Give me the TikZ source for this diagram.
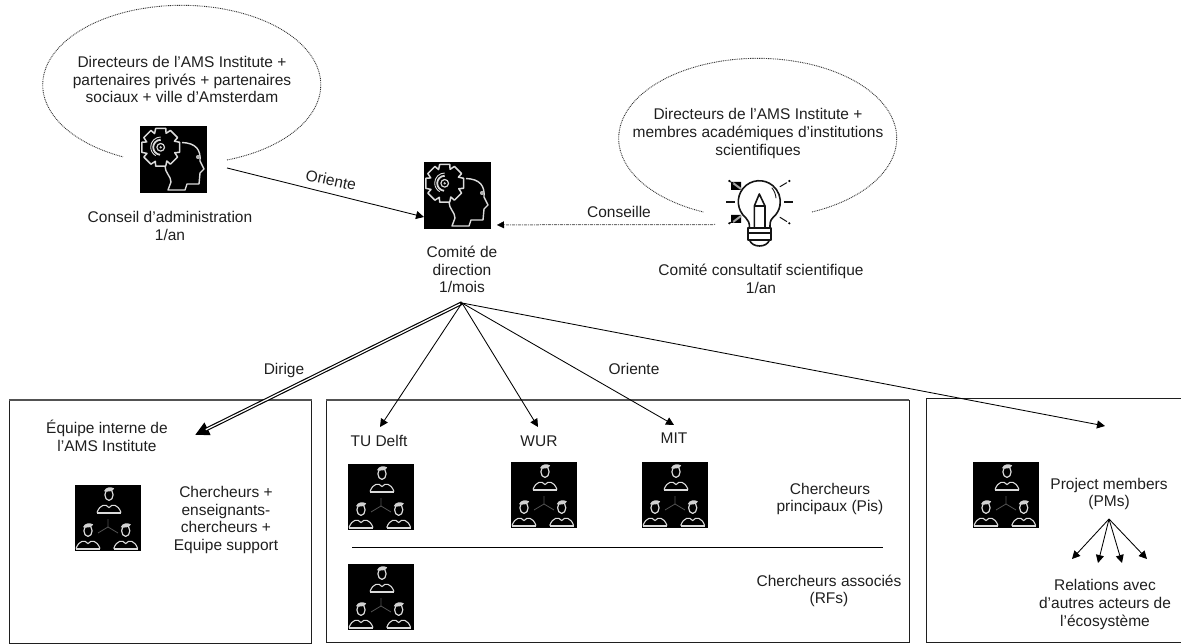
\documentclass[tikz,border=0pt]{standalone}
\usepackage{fontspec}
\setmainfont{Liberation Sans}
\usetikzlibrary{arrows.meta}
\tikzset{
  lbl/.style={font=\fontsize{15.5}{17.6}\selectfont, align=center, inner sep=0pt, text=black!88},
  frame/.style={draw=black!88, line width=0.9pt},
  frametop/.style={draw=black!68, line width=1.5pt},
  bubble/.style={draw=black!80, line width=0.9pt, dash pattern=on 0.9pt off 0.9pt},
  conn/.style={draw=black, line width=0.85pt, -{Triangle[length=8pt,width=8pt]}},
  iconline/.style={draw=black!14, line width=1.2pt, line join=round},
  bulbline/.style={draw=black!92, line width=1.6pt, line cap=round, line join=round},
  team/.pic={
    \fill[black] (0,0) rectangle (66,66);
    \draw[black!68, line width=0.8pt] (33,42) -- (33,34) (33,42) -- (23,48) (33,42) -- (43,48);
    \foreach \cx/\cy in {34/9,13/45,50.7/45}{
      \begin{scope}[shift={(\cx,\cy)}]
        \draw[iconline] (0,0.8) ellipse (4.1 and 5.6);
        \fill[black!18] (-5,-2.8) .. controls (-3.5,-7.2) and (2,-7.5) .. (5.2,-5.6) .. controls (4.5,-2.6) and (-2,-1.8) .. cycle;
        \draw[iconline, line width=1.1pt] (-12,18.6) .. controls (-9,10) and (-3,9.5) .. (0,13.6) .. controls (3,9.5) and (9,10) .. (12,18.6);
        \draw[iconline, line width=1.8pt] (-12.2,18.6) -- (12.2,18.6);
      \end{scope}
    }
  },
  brain/.pic={
    \fill[black] (0,0) rectangle (67,67);
    \draw[iconline, line width=1.4pt] (25,40) .. controls (25,47) and (31,50) .. (31,56) -- (28,64) -- (45,64) -- (47,58) -- (59,58) -- (60,47) -- (64,43) -- (60,35) .. controls (61,24) and (56,17) .. (42,16.5);
    \fill[black!30] (58,31) circle (2.1);
    \draw[iconline, line width=1.5pt, fill=black] ({20.7+15*cos(-24)},{21.3+15*sin(-24)})
      \foreach \i in {0,...,7}{
        -- ({20.7+19.5*cos(\i*45-15)},{21.3+19.5*sin(\i*45-15)})
        -- ({20.7+19.5*cos(\i*45+15)},{21.3+19.5*sin(\i*45+15)})
        -- ({20.7+15*cos(\i*45+21)},{21.3+15*sin(\i*45+21)})
      } -- cycle;
    \draw[iconline] (20.7,21.3) circle (3.8);
    \fill[black!20] (20.7,21.3) circle (1.3);
    \draw[iconline, line width=1.8pt] (20.7,13.8) arc[start angle=-90,end angle=-265,radius=7.5];
    \draw[iconline, line width=0.9pt] (20.7,11) arc[start angle=-90,end angle=-240,radius=10];
  }
}
\begin{document}
\begin{tikzpicture}[x=1pt,y=-1pt]
\useasboundingbox (0,0) rectangle (1181,644);
\clip (0,0) rectangle (1181,644);
% bubbles
\draw[bubble] (227,160) arc[start angle=71,end angle=-245,x radius=139,y radius=79.5];
\draw[bubble] (812,212) arc[start angle=67,end angle=-247,x radius=139,y radius=80];
% frames
\draw[frame] (9,400) rectangle (311.5,643);
\draw[frame] (326,400) rectangle (909,642.5);
\draw[frame] (926,398.5) rectangle (1190,642.5);
\draw[frametop] (9,400) -- (311.5,400) (326,400) -- (909,400);
% icons
\pic at (140,126) {brain};
\pic at (424,162) {brain};
\pic at (75,485) {team};
\pic at (348,464) {team};
\pic at (511,462) {team};
\pic at (642,462) {team};
\pic at (348,564) {team};
\pic at (973,462) {team};
% bulb
\draw[bulbline] (749.5,228) .. controls (749.5,223) and (748.5,220.5) .. (745.8,217.8) arc[start angle=130,end angle=410,x radius=21,y radius=21] .. controls (770,220.5) and (770,223) .. (770,228);
\draw[bulbline] (754.3,228) -- (754.3,206) -- (759.3,194) -- (765,206) -- (765,228) (754.3,206) -- (765,206);
\draw[bulbline] (748,228) rectangle (771,240);
\draw[bulbline] (748,233) -- (771,233);
\draw[bulbline] (749.5,240) .. controls (751,244) and (755,246) .. (759.5,246) .. controls (764,246) and (768,244) .. (769.5,240);
\draw[bulbline, line width=0.9pt] (772,188) .. controls (774.5,191) and (775.5,194) .. (776,198);
\draw[bulbline, line cap=butt, line width=2.2pt] (726,202) -- (735,202) (784,202) -- (793,202);
\draw[bulbline, line width=1pt] (780,186.7) -- (786.7,182.7) (780,217.3) -- (786.7,221.5);
\fill[black] (789.3,181) circle (1.2) (789.3,223.3) circle (1.2) (729.3,181) circle (1.2) (729.3,223.3) circle (1.2);
\fill[black] (731,182) rectangle (741,190) (731,215) rectangle (741,223);
\draw[black!35, line width=2pt] (733,183) -- (741,189) (733,222) -- (741,216);
\draw[bulbline, line width=0.9pt] (729.3,181) -- (733,183.5) (729.3,223.3) -- (733,221);
% text
\node[lbl] (t1) at (182,79.5) {Directeurs de l’AMS Institute +\\partenaires privés + partenaires\\sociaux + ville d’Amsterdam};
\node[lbl] (t2) at (170,226) {Conseil d’administration\\1/an};
\node[lbl] (t3) at (758,133.5) {Directeurs de l’AMS Institute +\\membres académiques d’institutions\\scientifiques};
\node[lbl] (t4) at (761,279) {Comité consultatif scientifique\\1/an};
\node[lbl] (t5) at (462,269.5) {Comité de\\direction\\1/mois};
\node[lbl, rotate=-12] (t6) at (331,180) {Oriente};
\node[lbl] (t7) at (619,212) {Conseille};
\node[lbl] (t8) at (284,370) {Dirige};
\node[lbl] (t9) at (634,369) {Oriente};
\node[lbl] (t10) at (107,436) {Équipe interne de\\l’AMS Institute};
\node[lbl] (t11) at (226,520) {Chercheurs +\\enseignants-\\chercheurs +\\Equipe support};
\node[lbl] (t12) at (379,441) {TU Delft};
\node[lbl] (t13) at (539,441) {WUR};
\node[lbl] (t14) at (674,438) {MIT};
\node[lbl] (t15) at (830,499) {Chercheurs\\principaux (Pis)};
\node[lbl] (t16) at (829,591) {Chercheurs associés\\(RFs)};
\node[lbl] (t17) at (1109,494) {Project members\\(PMs)};
\node[lbl] (t18) at (1105,604.5) {Relations avec\\d’autres acteurs de\\l’écosystème};
% anchors
\coordinate (apex) at (462,303);
\coordinate (pm) at (1109,519);
\coordinate (oA) at (227,168);
\coordinate (oB) at (424,217);
\coordinate (cA) at (715,224.5);
\coordinate (cM) at (505,224.8);
\coordinate (cB) at (497,225);
\coordinate (dirEnd) at (195,435);
\coordinate (eTU) at (380,427);
\coordinate (eW) at (538,427);
\coordinate (eM) at (674,425);
\coordinate (eR) at (1105,426);
\coordinate (r1) at (1072,559);
\coordinate (r2) at (1098,563);
\coordinate (r3) at (1122,563);
\coordinate (r4) at (1147,559);
\coordinate (sepA) at (352,547);
\coordinate (sepB) at (883,547);
% connectors
\draw[conn] (oA) -- (oB);
\draw[black!55, line width=1pt, dash pattern=on 1pt off 1pt on 3pt off 1pt] (cA) -- (cM);
\draw[black, line width=0.3pt, -{Triangle[length=7pt,width=7pt]}] (cM) -- (cB);
\draw[black,line width=3.6pt,-{Triangle[length=14pt,width=13pt]}] (apex) -- (dirEnd);
\draw[white,line width=1.3pt,shorten <=2pt,shorten >=12pt] (apex) -- (dirEnd);
\draw[conn] (apex) -- (eTU);
\draw[conn] (apex) -- (eW);
\draw[conn] (apex) -- (eM);
\draw[conn] (apex) -- (eR);
\draw[conn] (pm) -- (r1);
\draw[conn] (pm) -- (r2);
\draw[conn] (pm) -- (r3);
\draw[conn] (pm) -- (r4);
\draw[black, line width=1pt] (sepA) -- (sepB);
\end{tikzpicture}
\end{document}
